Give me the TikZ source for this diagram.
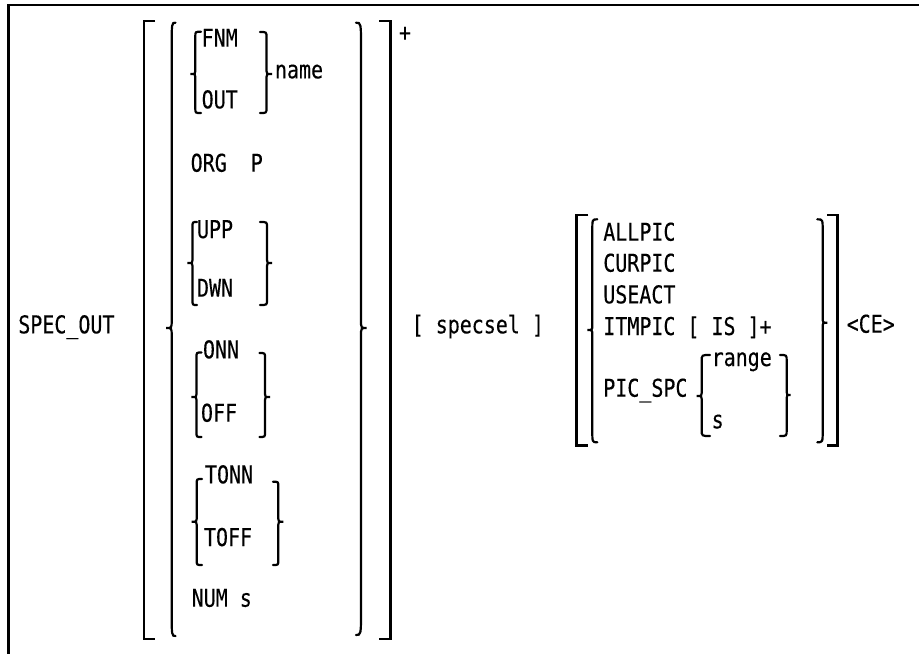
\documentclass[tikz,border=0pt]{standalone}
\usepackage{fontspec}
\setmonofont[FakeStretch=0.815,FakeBold=0.3]{DejaVu Sans Mono}
\newcommand\BrL[8]{% x, top, mid, bot, endx, endlen, tipw, midlen
  \draw[brc] (#5,#2) .. controls (#1,#2) .. (#1,{#2+#6}) -- (#1,{#3-#8})
    .. controls (#1,#3) .. ({#1-#7},#3) .. controls (#1,#3) .. (#1,{#3+#8})
    -- (#1,{#4-#6}) .. controls (#1,#4) .. (#5,#4);}
\newcommand\BrR[8]{%
  \draw[brc] (#5,#2) .. controls (#1,#2) .. (#1,{#2+#6}) -- (#1,{#3-#8})
    .. controls (#1,#3) .. ({#1+#7},#3) .. controls (#1,#3) .. (#1,{#3+#8})
    -- (#1,{#4-#6}) .. controls (#1,#4) .. (#5,#4);}
\tikzset{
  lbl/.style={anchor=base west, inner sep=0pt, outer sep=0pt,
    font=\ttfamily\fontsize{24.5}{28}\selectfont},
  brk/.style={line width=2.5pt, line join=miter},
  brc/.style={line width=2.2pt, line cap=round},
  frm/.style={line width=2.6pt}
}
\begin{document}
\begin{tikzpicture}[x=1pt,y=-1pt]
\useasboundingbox (0,0) rectangle (919,654);
% frame
\draw[frm] (919,5) -- (8.5,5) -- (8.5,654);
% command
\node[lbl] (spec) at (18.3,333.3) {SPEC\_OUT};
% outer brackets
\draw[brk] (155,21) -- (144,21) -- (144,639) -- (155,639);
\draw[brk] (379,21) -- (390.5,21) -- (390.5,639) -- (379,639);
\node[lbl] (plus) at (399,41) {+};
% outer braces
\BrL{171.7}{22.7}{328}{636}{175.5}{25}{5.5}{8}
\BrR{361}{22.7}{328}{635}{356}{25}{5.7}{8}
% FNM / OUT
\node[lbl] (fnm) at (201.7,46.7) {FNM};
\node[lbl] (out) at (201.7,108.3) {OUT};
\BrL{195.3}{31.7}{74}{113}{201}{5}{5}{3}
\BrR{266.5}{32}{74}{113}{260}{5}{5.5}{3}
\node[lbl] (name) at (275,78.3) {name};
% ORG P
\node[lbl] (org) at (190.7,171.7) {ORG\ \ P};
% UPP / DWN
\node[lbl] (upp) at (197,238) {UPP};
\node[lbl] (dwn) at (197,296.7) {DWN};
\BrL{192.5}{222}{263}{305}{197}{5}{5}{3}
\BrR{267}{222}{263}{305}{260}{5}{5}{3}
% ONN / OFF
\node[lbl] (onn) at (203,358.3) {ONN};
\node[lbl] (off) at (201,421.7) {OFF};
\BrL{196.5}{352.5}{397}{437}{201.5}{5}{5}{3}
\BrR{265}{353}{397}{437}{259.5}{5}{5}{3}
% TONN / TOFF
\node[lbl] (tonn) at (205,483.3) {TONN};
\node[lbl] (toff) at (204,546) {TOFF};
\BrL{196.7}{479}{521.7}{565}{202}{5}{5}{3}
\BrR{278.3}{481.7}{521.7}{565}{273}{5}{5}{3}
% NUM s
\node[lbl] (num) at (191.7,606.7) {NUM s};
% specsel
\node[lbl] (specsel) at (411.7,333.3) {[ specsel ]};
% right group
\draw[brk] (588.3,215) -- (576.7,215) -- (576.7,445.7) -- (588.3,445.7);
\draw[brk] (827.3,215) -- (837.3,215) -- (837.3,445.7) -- (827.3,445.7);
\BrL{592.3}{219.3}{330}{442.3}{597.3}{12}{5}{5}
\BrR{822.7}{219.3}{322.7}{442.3}{817.3}{12}{4.6}{5}
\node[lbl] (allpic) at (603.3,240.7) {ALLPIC};
\node[lbl] (curpic) at (603.3,271.7) {CURPIC};
\node[lbl] (useact) at (603.3,303.3) {USEACT};
\node[lbl] (itmpic) at (603.3,335) {ITMPIC [ IS ]+};
\node[lbl] (picspc) at (603.3,396.7) {PIC\_SPC};
\BrL{701.7}{355}{396}{436}{710}{6}{5}{3}
\BrR{786.7}{355}{395}{436}{780}{6}{4}{3}
\node[lbl] (range) at (711.7,366) {range};
\node[lbl] (s) at (711.7,428.3) {s};
\node[lbl] (ce) at (846.7,332.7) {<CE>};
\end{tikzpicture}
\end{document}
